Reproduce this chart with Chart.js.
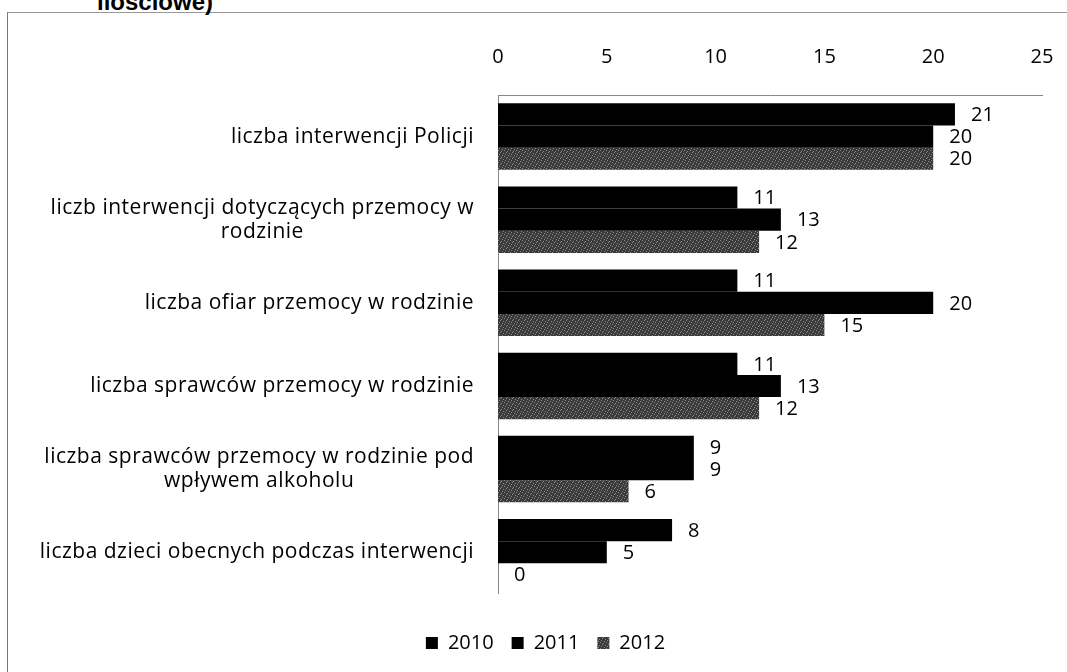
<!DOCTYPE html>
<html>
<head>
<meta charset="utf-8">
<script src="https://cdn.jsdelivr.net/npm/chart.js@4/dist/chart.umd.min.js"></script>
<style>
  html, body { margin: 0; padding: 0; background: #fff; }
  #wrap { position: relative; width: 1067px; height: 672px; overflow: hidden; }
  #frame { position: absolute; left: 7px; top: 12px; width: 1100px; height: 700px;
           border-left: 1px solid #777; border-top: 1px solid #999; }
  #title { position: absolute; left: 97px; top: -10px; font: bold 24px "Liberation Sans", Arial, sans-serif;
           line-height: 24px; color: #000; white-space: nowrap; }
  #chart { position: absolute; left: 0; top: 0; }
</style>
</head>
<body>
<div id="wrap">
  <div id="frame"></div>
  <div id="title">ilościowe)</div>
  <canvas id="chart" width="1067" height="672"></canvas>
</div>
<script>
const categories = [
  ['liczba interwencji Policji'],
  ['liczb interwencji dotyczących przemocy w', 'rodzinie'],
  ['liczba ofiar przemocy w rodzinie'],
  ['liczba sprawców przemocy w rodzinie'],
  ['liczba sprawców przemocy w rodzinie pod', 'wpływem alkoholu'],
  ['liczba dzieci obecnych podczas interwencji']
]
const values2010 = [21, 11, 11, 11, 9, 8]
const values2011 = [20, 13, 20, 13, 9, 5]
const values2012 = [20, 12, 15, 12, 6, 0]
const years = ['2010', '2011', '2012']

const FONT = '"Open Sans"'
const FS = 20

// speckled grey fill for 2012, like the scanned original
function speckle() {
  const c = document.createElement('canvas')
  c.width = 6; c.height = 6
  const g = c.getContext('2d')
  g.fillStyle = '#3a3a3a'
  g.fillRect(0, 0, 6, 6)
  g.fillStyle = '#8a8a8a'
  const dots = [[0, 0], [3, 1], [5, 3], [1, 4], [4, 5], [2, 2]]
  dots.forEach(([x, y]) => g.fillRect(x, y, 1, 1))
  return g.createPattern(c, 'repeat')
}

// category labels: right-aligned block, lines centred inside it
const yLabels = {
  id: 'yLabels',
  afterDraw(chart) {
    const ctx = chart.ctx
    const y = chart.scales.y
    ctx.save()
    ctx.font = `21px ${FONT}`
    ctx.letterSpacing = '0.5px'
    ctx.fillStyle = '#000'
    ctx.textAlign = 'center'
    ctx.textBaseline = 'middle'
    const lh = 24
    categories.forEach((lines, i) => {
      const w = Math.max(...lines.map(l => ctx.measureText(l).width))
      const cx = 474 - w / 2
      const yc = y.getPixelForValue(i)
      lines.forEach((l, j) => ctx.fillText(l, cx, yc + (j - (lines.length - 1) / 2) * lh))
    })
    ctx.restore()
  }
}

// value labels at the end of every bar
const valueLabels = {
  id: 'valueLabels',
  afterDatasetsDraw(chart) {
    const ctx = chart.ctx
    ctx.save()
    ctx.font = `${FS}px ${FONT}`
    ctx.fillStyle = '#000'
    ctx.textAlign = 'left'
    ctx.textBaseline = 'middle'
    chart.data.datasets.forEach((ds, di) => {
      chart.getDatasetMeta(di).data.forEach((bar, i) => {
        ctx.fillText(ds.data[i], bar.x + 16, bar.y + 1)
      })
    })
    ctx.restore()
  }
}

const ctx = document.getElementById('chart')

new Chart(ctx, {
  type: 'bar',
  data: {
    labels: categories,
    datasets: [
      { label: years[0], data: values2010, backgroundColor: '#000' },
      { label: years[1], data: values2011, backgroundColor: '#000' },
      { label: years[2], data: values2012, backgroundColor: speckle() }
    ]
  },
  options: {
    indexAxis: 'y',
    responsive: false,
    animation: false,
    events: [],
    layout: { padding: { left: 49, right: 25, top: 0, bottom: 9 } },
    datasets: { bar: { categoryPercentage: 0.8, barPercentage: 1 } },
    scales: {
      x: {
        position: 'top',
        min: 0, max: 25,
        ticks: { stepSize: 5, padding: 26, color: '#000', font: { family: FONT, size: FS } },
        grid: { display: false, drawTicks: false },
        border: { display: true, color: '#888', width: 1 },
        afterFit(scale) {
          scale.height = 95
          scale.paddingLeft = 0
          scale.paddingRight = 0
        }
      },
      y: {
        ticks: { display: false },
        grid: { display: false, drawTicks: false },
        border: { display: true, color: '#888', width: 1 },
        afterFit(scale) { scale.width = 449 }
      }
    },
    plugins: {
      legend: {
        position: 'bottom',
        title: { display: true, text: ' ', font: { size: 1 }, padding: { top: 0, bottom: 20 } },
        labels: { boxWidth: 12, boxHeight: 12, padding: 18, color: '#000', font: { family: FONT, size: FS } }
      },
      tooltip: { enabled: false }
    }
  },
  plugins: [yLabels, valueLabels]
})
</script>
</body>
</html>
